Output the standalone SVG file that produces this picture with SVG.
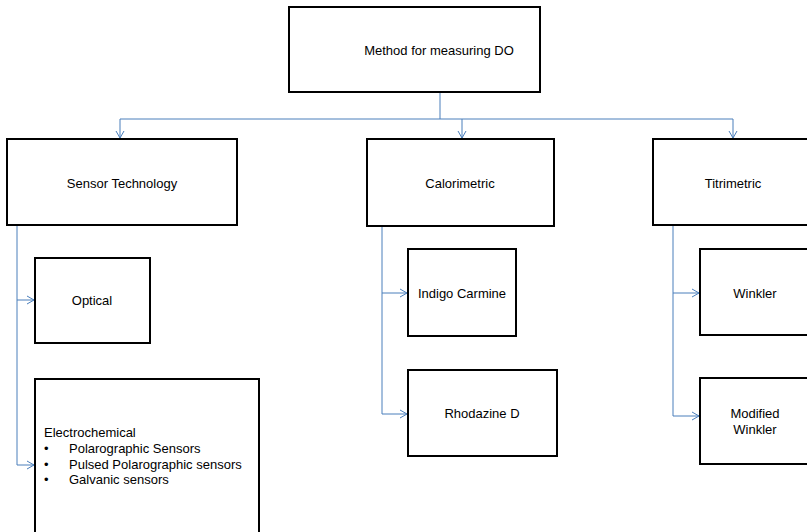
<svg xmlns="http://www.w3.org/2000/svg" width="807" height="532" viewBox="0 0 807 532">
<defs>
<marker id="arr" markerWidth="10" markerHeight="10" refX="8" refY="5" orient="auto" markerUnits="userSpaceOnUse">
<path d="M1,1 L8,5 L1,9" fill="none" stroke="#4a7ebb" stroke-width="1"/>
</marker>
</defs>
<style>
.box{fill:#fff;stroke:#000;stroke-width:2}
.t{font-family:"Liberation Sans",Arial,sans-serif;font-size:13px;fill:#000}
.c{text-anchor:middle}
.ln{fill:none;stroke:#4a7ebb;stroke-width:1}
</style>
<rect width="807" height="532" fill="#fff"/>
<g id="connectors">
<path class="ln" d="M440,92 V119"/>
<path class="ln" d="M120,119 H733"/>
<path class="ln" d="M120,119 V138" marker-end="url(#arr)"/>
<path class="ln" d="M462,119 V138" marker-end="url(#arr)"/>
<path class="ln" d="M733,119 V138" marker-end="url(#arr)"/>
<path class="ln" d="M17,225 V465 H34" marker-end="url(#arr)"/>
<path class="ln" d="M17,300 H34" marker-end="url(#arr)"/>
<path class="ln" d="M382,226 V414 H407" marker-end="url(#arr)"/>
<path class="ln" d="M382,293 H407" marker-end="url(#arr)"/>
<path class="ln" d="M673,225 V416 H699" marker-end="url(#arr)"/>
<path class="ln" d="M673,293 H699" marker-end="url(#arr)"/>
</g>
<g id="root">
<rect class="box" x="289" y="7" width="251" height="85"/>
<text class="t c" x="439" y="55">Method for measuring DO</text>
</g>
<g id="sensor">
<rect class="box" x="7" y="139" width="230" height="86"/>
<text class="t c" x="122" y="188">Sensor Technology</text>
</g>
<g id="calorimetric">
<rect class="box" x="367" y="139" width="187" height="87"/>
<text class="t c" x="460" y="188">Calorimetric</text>
</g>
<g id="titrimetric">
<rect class="box" x="653" y="139" width="160" height="86"/>
<text class="t c" x="733" y="188">Titrimetric</text>
</g>
<g id="optical">
<rect class="box" x="35" y="258" width="115" height="85"/>
<text class="t c" x="92" y="305">Optical</text>
</g>
<g id="electrochemical">
<rect class="box" x="35" y="379" width="224" height="160"/>
<text class="t" x="44" y="437">Electrochemical</text>
<text class="t" x="44" y="453">•</text>
<text class="t" x="69" y="453">Polarographic Sensors</text>
<text class="t" x="44" y="469">•</text>
<text class="t" x="69" y="469">Pulsed Polarographic sensors</text>
<text class="t" x="44" y="484">•</text>
<text class="t" x="69" y="484">Galvanic sensors</text>
</g>
<g id="indigo">
<rect class="box" x="408" y="249" width="108" height="87"/>
<text class="t c" x="462" y="298">Indigo Carmine</text>
</g>
<g id="rhodazine">
<rect class="box" x="408" y="370" width="149" height="86"/>
<text class="t c" x="482" y="418">Rhodazine D</text>
</g>
<g id="winkler">
<rect class="box" x="700" y="249" width="115" height="86"/>
<text class="t c" x="755" y="298">Winkler</text>
</g>
<g id="modified-winkler">
<rect class="box" x="700" y="378" width="115" height="86"/>
<text class="t c" x="755" y="418">Modified</text>
<text class="t c" x="755" y="434">Winkler</text>
</g>
</svg>
